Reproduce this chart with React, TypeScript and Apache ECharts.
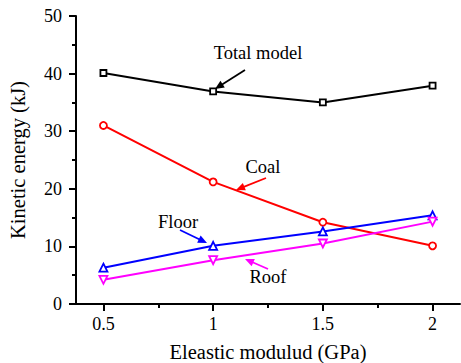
import React, { useEffect, useRef } from "react";
import * as echarts from "echarts";

const xValues = [0.5, 1, 1.5, 2];
const totalModel = [40.1, 36.9, 35.0, 37.9];
const coal = [31.0, 21.2, 14.2, 10.1];
const floor = [6.3, 10.1, 12.6, 15.4];
const roof = [4.2, 7.6, 10.5, 14.3];
const xMajorTicks = [0.5, 1, 1.5, 2];
const xMinorTicks = [0.75, 1.25, 1.75];

const FONT = "Liberation Serif";

function arrow(x1: number, y1: number, x2: number, y2: number, color: string) {
  const dx = x2 - x1;
  const dy = y2 - y1;
  const len = Math.sqrt(dx * dx + dy * dy);
  const ux = dx / len;
  const uy = dy / len;
  const hl = 9;
  const hw = 4;
  const bx = x2 - ux * hl;
  const by = y2 - uy * hl;
  return {
    type: "group",
    children: [
      {
        type: "line",
        shape: { x1, y1, x2: bx + ux * 2, y2: by + uy * 2 },
        style: { stroke: color, lineWidth: 1.8 },
      },
      {
        type: "polygon",
        shape: {
          points: [
            [x2, y2],
            [bx - uy * hw, by + ux * hw],
            [bx + uy * hw, by - ux * hw],
          ],
        },
        style: { fill: color },
      },
    ],
  };
}

function label(text: string, x: number, y: number) {
  return {
    type: "text",
    x,
    y,
    style: {
      text,
      fill: "#000",
      fontSize: 18.5,
      fontFamily: FONT,
      align: "center",
      verticalAlign: "middle",
    },
  };
}

function mk(data: number[]) {
  return xValues.map((x, i) => [x, data[i]]);
}

export default function App() {
  const ref = useRef<HTMLDivElement>(null);
  useEffect(() => {
    if (!ref.current) return;
    const chart = echarts.init(ref.current, null, { renderer: "svg" });
    const axisCommon = {
      axisLine: { show: true, lineStyle: { color: "#000", width: 2 } },
      splitLine: { show: false },
    };
    const series = [
      { name: "Total model", data: totalModel, color: "#000000", symbol: "rect", size: 6 },
      { name: "Coal", data: coal, color: "#ff0000", symbol: "circle", size: 7 },
      { name: "Floor", data: floor, color: "#0000ff", symbol: "triangle", size: 8 },
      {
        name: "Roof",
        data: roof,
        color: "#ff00ff",
        symbol: "path://M0,0 L10,0 L5,9 Z",
        size: 8,
      },
    ];
    chart.setOption({
      animation: false,
      backgroundColor: "#fff",
      textStyle: { fontFamily: FONT },
      grid: {
        left: 76,
        top: 16,
        right: 1,
        bottom: 59,
        containLabel: false,
        outerBoundsMode: "none",
      },
      xAxis: [
        {
          type: "value",
          min: 0.375,
          max: 2.125,
          position: "bottom",
          ...axisCommon,
          axisTick: {
            show: true,
            inside: false,
            length: 7,
            lineStyle: { color: "#000", width: 2 },
            customValues: xMajorTicks,
          },
          axisLabel: {
            show: true,
            margin: 11,
            color: "#000",
            fontSize: 18,
            fontFamily: FONT,
            customValues: xMajorTicks,
          },
          name: "Eleastic modulud (GPa)",
          nameLocation: "middle",
          nameGap: 37,
          nameTextStyle: { color: "#000", fontSize: 20.5, fontFamily: FONT },
        },
        {
          type: "value",
          min: 0.375,
          max: 2.125,
          position: "bottom",
          offset: 0,
          axisLine: { show: false },
          splitLine: { show: false },
          axisLabel: { show: false },
          axisTick: {
            show: true,
            inside: false,
            length: 4,
            lineStyle: { color: "#000", width: 2 },
            customValues: xMinorTicks,
          },
        },
      ],
      yAxis: {
        type: "value",
        min: 0,
        max: 50,
        interval: 10,
        ...axisCommon,
        axisTick: {
          show: true,
          inside: false,
          length: 7,
          lineStyle: { color: "#000", width: 2 },
        },
        minorTick: {
          show: true,
          splitNumber: 2,
          length: 4,
          lineStyle: { color: "#000", width: 2 },
        },
        axisLabel: {
          margin: 14,
          color: "#000",
          fontSize: 18,
          fontFamily: FONT,
        },
        name: "Kinetic energy (kJ)",
        nameLocation: "middle",
        nameGap: 48,
        nameTextStyle: { color: "#000", fontSize: 20.5, fontFamily: FONT },
      },
      series: series.map((s) => ({
        type: "line",
        name: s.name,
        data: mk(s.data),
        xAxisIndex: 0,
        symbol: s.symbol,
        symbolSize: s.size,
        showAllSymbol: true,
        lineStyle: { color: s.color, width: 2 },
        itemStyle: { color: "#fff", borderColor: s.color, borderWidth: 1.8 },
        z: 3,
      })),
      graphic: [
        label("Total model", 258, 53),
        arrow(245, 70, 215, 89, "#000000"),
        label("Coal", 263, 167),
        arrow(266, 178, 236, 190, "#ff0000"),
        label("Floor", 178, 222),
        arrow(180, 230, 207, 243, "#0000ff"),
        label("Roof", 268, 277),
        arrow(268, 269, 245, 259, "#ff00ff"),
      ],
    });
    return () => chart.dispose();
  }, []);
  return <div ref={ref} style={{ width: 461, height: 363, position: "absolute", left: 0, top: 0 }} />;
}
